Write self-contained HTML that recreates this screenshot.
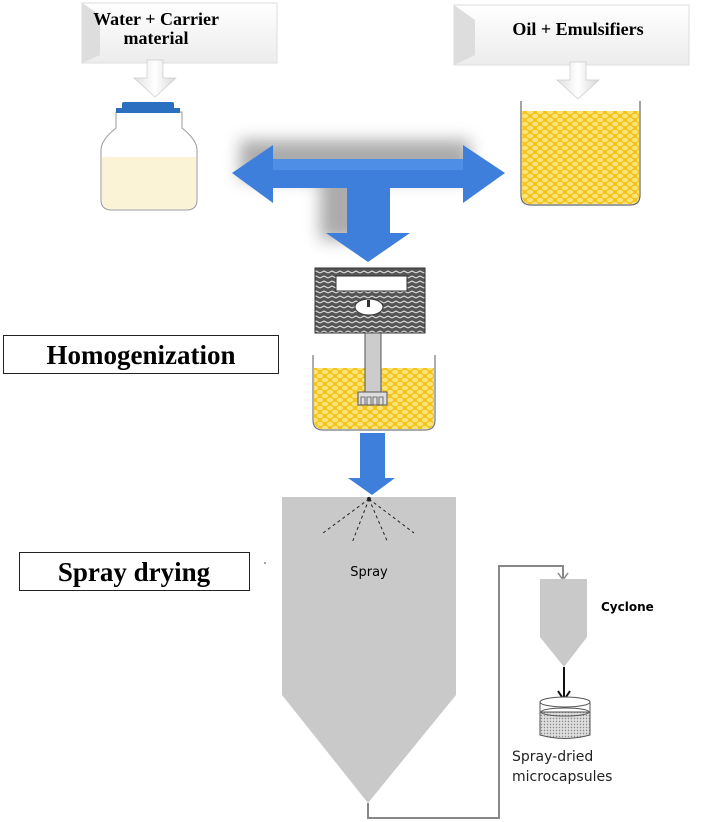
<!DOCTYPE html>
<html><head><meta charset="utf-8"><style>
html,body{margin:0;padding:0;background:#fff;}
svg{display:block;}
</style></head><body>
<svg width="708" height="822" viewBox="0 0 708 822" xmlns="http://www.w3.org/2000/svg">
<defs>
<pattern id="oil" width="10" height="8" patternUnits="userSpaceOnUse">
<rect width="10" height="8" fill="#f3c417"/>
<ellipse cx="5" cy="4" rx="3.2" ry="2.2" fill="#fbe27a"/>
<ellipse cx="0" cy="0" rx="3.2" ry="2.2" fill="#fbe27a"/>
<ellipse cx="10" cy="0" rx="3.2" ry="2.2" fill="#fbe27a"/>
<ellipse cx="0" cy="8" rx="3.2" ry="2.2" fill="#fbe27a"/>
<ellipse cx="10" cy="8" rx="3.2" ry="2.2" fill="#fbe27a"/>
</pattern>
<pattern id="hatch" width="8" height="5" patternUnits="userSpaceOnUse">
<rect width="8" height="5" fill="#555"/>
<path d="M0 3 L4 1 L8 3" stroke="#ddd" stroke-width="1.2" fill="none"/>
</pattern>
<pattern id="dots" width="3" height="3" patternUnits="userSpaceOnUse">
<rect width="3" height="3" fill="#ddd"/><circle cx="1.5" cy="1.5" r="0.7" fill="#888"/>
</pattern>
<linearGradient id="box" x1="0" y1="0" x2="0" y2="1">
<stop offset="0" stop-color="#fff"/><stop offset="1" stop-color="#ececec"/>
</linearGradient>
<linearGradient id="warr" x1="0" y1="0" x2="1" y2="0">
<stop offset="0" stop-color="#e0e0e0"/><stop offset="0.5" stop-color="#fff"/><stop offset="1" stop-color="#d8d8d8"/>
</linearGradient>
<filter id="sh" x="-20%" y="-40%" width="140%" height="180%"><feGaussianBlur stdDeviation="8"/></filter>
</defs>

<!-- top boxes -->
<rect x="82" y="3" width="195" height="60" fill="url(#box)" stroke="#ddd"/>
<path d="M82 3 L100 15 L100 55 L82 63Z" fill="#ddd"/>
<text x="156" y="25" font-family="Liberation Serif, serif" font-weight="bold" font-size="18" text-anchor="middle">Water + Carrier</text>
<text x="156" y="44" font-family="Liberation Serif, serif" font-weight="bold" font-size="18" text-anchor="middle">material</text>
<rect x="454" y="5" width="235" height="60" fill="url(#box)" stroke="#ddd"/>
<path d="M454 5 L475 20 L475 55 L454 65Z" fill="#ddd"/>
<text x="578" y="35" font-family="Liberation Serif, serif" font-weight="bold" font-size="18" text-anchor="middle">Oil + Emulsifiers</text>

<!-- white arrows -->
<path d="M147 60 L163 60 L163 78 L176 78 L155 97 L134 78 L147 78Z" fill="url(#warr)" stroke="#ccc" stroke-width="0.7"/>
<path d="M570 62 L586 62 L586 80 L599 80 L578 99 L557 80 L570 80Z" fill="url(#warr)" stroke="#ccc" stroke-width="0.7"/>

<!-- bottle -->
<path d="M116 112 L116 128 Q101 140 101 150 L101 200 Q101 210 112 210 L186 210 Q197 210 197 200 L197 150 Q197 140 182 128 L182 112Z" fill="#fff" stroke="#999"/>
<path d="M102 157 L196 157 L196 200 Q196 209 186 209 L112 209 Q102 209 102 200Z" fill="#fbf3d6"/>
<rect x="122" y="102" width="52" height="10" rx="2" fill="#2a6fc0"/>
<rect x="116" y="108" width="64" height="5" fill="#2a6fc0"/>

<!-- right beaker -->
<path d="M521 101 L521 195 Q521 205 531 205 L630 205 Q640 205 640 195 L640 101" fill="none" stroke="#666" stroke-width="1.2"/>
<path d="M522 111 L639 111 L639 195 Q639 204 630 204 L531 204 Q522 204 522 195Z" fill="url(#oil)"/>

<!-- blue T arrow -->
<g filter="url(#sh)" opacity="0.55"><rect x="240" y="140" width="230" height="40" fill="#666"/><rect x="320" y="170" width="40" height="70" fill="#666"/></g>
<path d="M232 173 L273 145 L273 159 L463 159 L463 145 L505 173 L463 203 L463 188 L390 188 L390 233 L410 233 L368 262 L326 233 L347 233 L347 188 L273 188 L273 203Z" fill="#3e7fdc"/>
<path d="M273 159 L463 159 L463 170 L273 170Z" fill="#5a98ec" opacity="0.6"/>

<!-- homogenizer -->
<rect x="315" y="268" width="110" height="65" fill="url(#hatch)" stroke="#333"/>
<rect x="336" y="276" width="71" height="15" fill="#fff" stroke="#333"/>
<ellipse cx="369" cy="307" rx="14" ry="8" fill="#fff" stroke="#333"/>
<rect x="367" y="300" width="3" height="7" fill="#333"/>
<path d="M313 355 L313 420 Q313 430 323 430 L425 430 Q435 430 435 420 L435 355" fill="none" stroke="#777" stroke-width="1.2"/>
<path d="M314 368 L434 368 L434 420 Q434 429 425 429 L323 429 Q314 429 314 420Z" fill="url(#oil)"/>
<rect x="365" y="333" width="16" height="60" fill="#ccc" stroke="#555"/>
<rect x="358" y="392" width="29" height="13" fill="#ddd" stroke="#555"/>
<path d="M361 405 v-8 h4 v8 M367 405 v-8 h4 v8 M373 405 v-8 h4 v8 M379 405 v-8 h4 v8" fill="none" stroke="#555" stroke-width="0.8"/>

<!-- blue arrow down -->
<path d="M360 433 L385 433 L385 478 L395 478 L372 495 L348 478 L360 478Z" fill="#3e7fdc"/>

<!-- labels -->
<rect x="3.5" y="335.5" width="275" height="38" fill="#fff" stroke="#222"/>
<text x="141" y="364" font-family="Liberation Serif, serif" font-weight="bold" font-size="27" text-anchor="middle">Homogenization</text>
<rect x="19.5" y="552.5" width="230" height="38" fill="#fff" stroke="#222"/>
<text x="134" y="581" font-family="Liberation Serif, serif" font-weight="bold" font-size="27" text-anchor="middle">Spray drying</text>
<circle cx="265" cy="563" r="0.8" fill="#333"/>

<!-- spray chamber -->
<path d="M282 497 L456 497 L456 695 L368 803 L282 695Z" fill="#c9c9c9"/>
<circle cx="369" cy="499" r="2" fill="#222"/>
<g stroke="#222" stroke-width="1" stroke-dasharray="3,3" fill="none">
<line x1="369" y1="499" x2="323" y2="533"/>
<line x1="369" y1="499" x2="352" y2="543"/>
<line x1="369" y1="499" x2="388" y2="543"/>
<line x1="369" y1="499" x2="414" y2="533"/>
</g>
<text x="369" y="576" font-family="DejaVu Sans, sans-serif" font-size="13" text-anchor="middle">Spray</text>

<!-- pipe -->
<path d="M368 803 L368 818 L499 818 L499 566 L563 566 L563 578" fill="none" stroke="#888" stroke-width="2"/>
<path d="M558 573 L563 580 L568 573" fill="none" stroke="#888" stroke-width="1.5"/>

<!-- cyclone -->
<path d="M540 579 L587 579 L587 637 L564 667 L540 637Z" fill="#c9c9c9"/>
<text x="601" y="611" font-family="DejaVu Sans, sans-serif" font-weight="bold" font-size="12">Cyclone</text>
<line x1="564" y1="667" x2="564" y2="698" stroke="#111" stroke-width="2"/>
<path d="M558 691 L564 700 L570 691" fill="none" stroke="#111" stroke-width="2"/>

<!-- collector -->
<path d="M540 712 L540 735 Q565 742 590 735 L590 712Z" fill="url(#dots)" stroke="#555"/>
<path d="M540 702 L540 712 M590 702 L590 712" stroke="#555"/>
<ellipse cx="565" cy="702" rx="25" ry="5" fill="#fff" stroke="#555"/>
<ellipse cx="565" cy="712" rx="24" ry="4" fill="none" stroke="#555"/>
<text x="512" y="761" font-family="DejaVu Sans, sans-serif" font-size="14" fill="#222">Spray-dried</text>
<text x="512" y="781" font-family="DejaVu Sans, sans-serif" font-size="14" fill="#222">microcapsules</text>
</svg>
</body></html>
